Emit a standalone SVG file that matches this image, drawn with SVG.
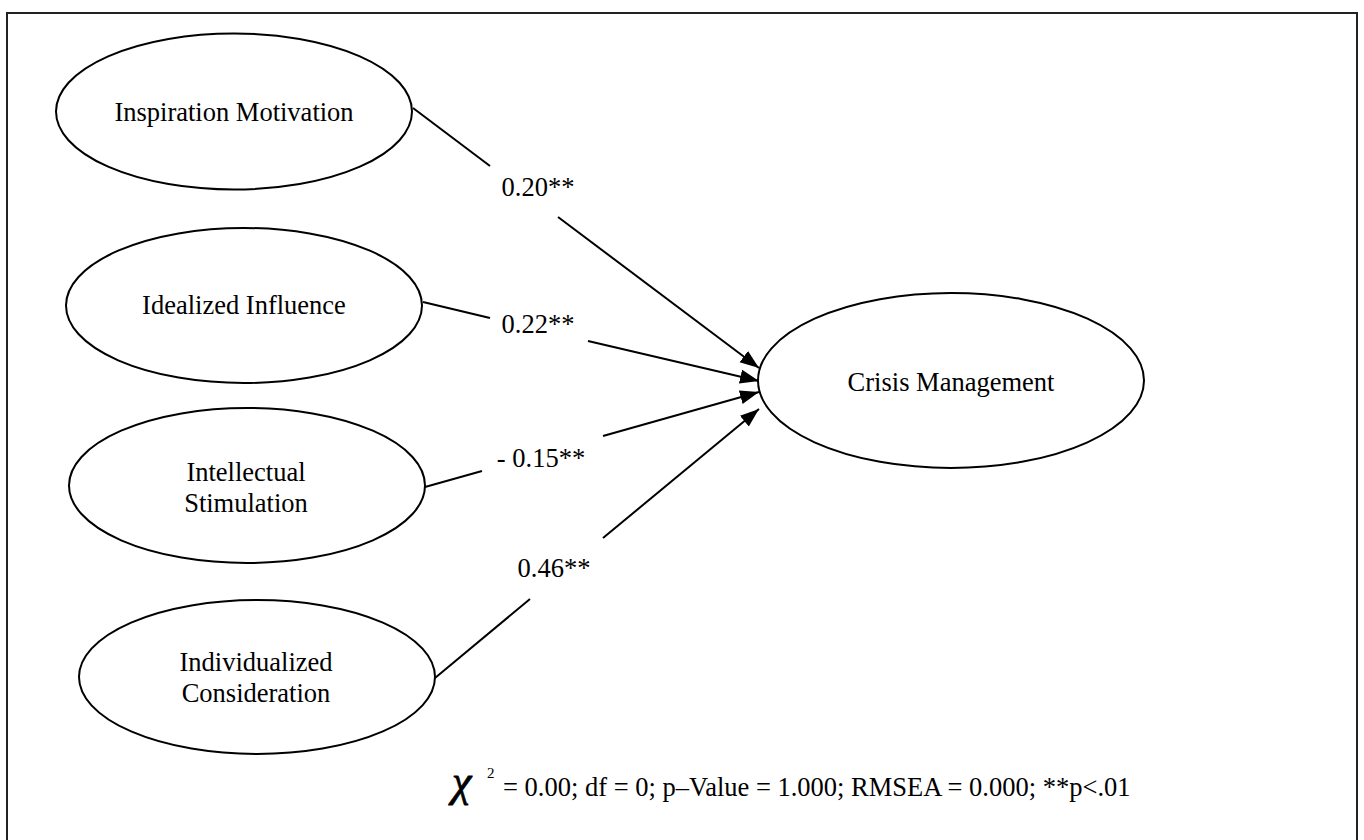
<svg xmlns="http://www.w3.org/2000/svg" width="1364" height="840" viewBox="0 0 1364 840">
<style>
.frame{fill:#fff;stroke:#222;stroke-width:2}
.node{fill:#fff;stroke:#000;stroke-width:2}
.lbl{font-family:"Liberation Serif","Times New Roman",serif;font-size:26.5px;fill:#000;text-anchor:middle}
.edge{stroke:#000;stroke-width:2;fill:none}
.fit{font-family:"Liberation Serif","Times New Roman",serif;font-size:26.5px;fill:#000}
</style>
<defs>
<marker id="arr" markerUnits="userSpaceOnUse" markerWidth="20" markerHeight="16" refX="19" refY="8" orient="auto">
<path d="M0,1 L19,8 L0,15 z" fill="#000"/>
</marker>
</defs>
<rect class="frame" x="7" y="13" width="1350" height="840"/>
<g id="connectors">
<line class="edge" x1="413" y1="108" x2="490" y2="166"/>
<line class="edge" x1="558" y1="217" x2="759" y2="368" marker-end="url(#arr)"/>
<text class="lbl" x="538" y="196">0.20**</text>
<line class="edge" x1="423" y1="302" x2="490" y2="318"/>
<line class="edge" x1="588" y1="341" x2="759" y2="381" marker-end="url(#arr)"/>
<text class="lbl" x="538" y="333">0.22**</text>
<line class="edge" x1="425" y1="487" x2="482" y2="471"/>
<line class="edge" x1="603" y1="436" x2="759" y2="392" marker-end="url(#arr)"/>
<text class="lbl" x="541" y="467">- 0.15**</text>
<line class="edge" x1="435" y1="678" x2="530" y2="599"/>
<line class="edge" x1="603" y1="538" x2="759" y2="409" marker-end="url(#arr)"/>
<text class="lbl" x="554" y="577">0.46**</text>
</g>
<g id="inspiration">
<ellipse class="node" cx="234" cy="111.5" rx="178" ry="78"/>
<text class="lbl" x="234" y="121">Inspiration Motivation</text>
</g>
<g id="idealized">
<ellipse class="node" cx="244" cy="305.5" rx="178" ry="77.5"/>
<text class="lbl" x="244" y="314">Idealized Influence</text>
</g>
<g id="intellectual">
<ellipse class="node" cx="247" cy="485.5" rx="178" ry="77.5"/>
<text class="lbl" x="246" y="481">Intellectual</text>
<text class="lbl" x="246" y="512">Stimulation</text>
</g>
<g id="individualized">
<ellipse class="node" cx="257" cy="677" rx="178" ry="77"/>
<text class="lbl" x="256" y="671">Individualized</text>
<text class="lbl" x="256" y="702">Consideration</text>
</g>
<g id="crisis">
<ellipse class="node" cx="951" cy="380.5" rx="193" ry="87.5"/>
<text class="lbl" x="951" y="391">Crisis Management</text>
</g>
<g id="fit">
<text x="452" y="796" font-family="'Liberation Serif','Times New Roman',serif" font-style="italic" font-size="44" stroke="#000" stroke-width="0.8">χ</text>
<text x="487" y="778" font-family="'Liberation Serif','Times New Roman',serif" font-size="15">2</text>
<text class="fit" x="503" y="796">= 0.00; df = 0; p–Value = 1.000; RMSEA = 0.000; **p&lt;.01</text>
</g>
</svg>
